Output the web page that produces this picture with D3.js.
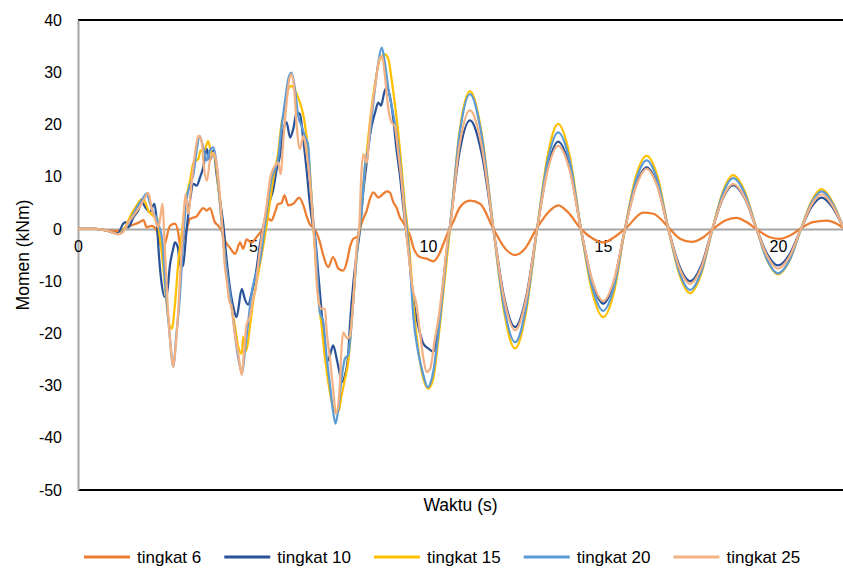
<!DOCTYPE html>
<html>
<head>
<meta charset="utf-8">
<script src="https://cdn.jsdelivr.net/npm/d3@7"></script>
<style>
  html, body { margin: 0; padding: 0; background: #fff; }
  svg { display: block; font-family: "Liberation Sans", Arial, sans-serif; }
</style>
</head>
<body>
<svg id="chart" width="843" height="568"></svg>
<script>
// Bending moment time histories per storey level: [time (s), moment (kNm)]
const tingkat6 = [[0,0],[0.5,0],[1.0,-0.4],[1.15,-0.4],[1.49,0.6],[1.77,1.3],[1.87,1.7],[1.96,0.3],[2.1,0.6],[2.25,-0.3],[2.34,-2.9],[2.44,-3.5],[2.63,0.6],[2.77,1.0],[2.87,-1.0],[2.91,-3.0],[3.06,-1.4],[3.2,1.9],[3.39,2.4],[3.58,4.0],[3.68,3.5],[3.77,4.0],[3.91,1.3],[4.01,0.6],[4.1,-0.3],[4.2,-2.2],[4.34,-3.6],[4.49,-4.8],[4.63,-2.6],[4.72,-3.8],[4.82,-2.0],[4.95,-2.6],[5.1,-1.6],[5.3,0.2],[5.44,1.9],[5.53,1.6],[5.63,3.2],[5.72,4.8],[5.81,4.9],[5.9,6.4],[6.01,4.5],[6.15,4.8],[6.32,6.0],[6.44,4.5],[6.53,2.5],[6.63,0.8],[6.72,0.3],[6.82,-0.8],[6.91,-2.5],[7.01,-5.1],[7.15,-7.3],[7.29,-5.4],[7.44,-7.6],[7.58,-8.0],[7.68,-6.4],[7.77,-3.5],[7.87,-1.9],[7.98,-1.5],[8.06,0.2],[8.15,1.9],[8.25,3.5],[8.34,5.7],[8.44,7.0],[8.58,6.0],[8.72,6.7],[8.82,7.2],[8.91,7.0],[9.01,5.1],[9.1,4.1],[9.2,2.2],[9.29,1.3],[9.39,0],[9.49,-1.3],[9.58,-3.5],[9.77,-5.4],[9.96,-5.7],[10.15,-6.2],[10.3,-5.1],[10.44,-2.9],[10.58,-0.6],[10.72,1.3],[10.91,4.1],[11.2,5.4],[11.49,4.8],[11.87,0],[12.25,-4.1],[12.49,-5.0],[12.77,-3.8],[13.1,0],[13.44,3.2],[13.72,4.5],[14.0,3.2],[14.37,0],[14.72,-1.9],[15.01,-2.6],[15.34,-1.5],[15.68,0.3],[16.15,3.1],[16.44,2.9],[16.87,0.3],[17.2,-1.9],[17.53,-2.5],[17.87,-1.6],[18.15,0],[18.53,1.7],[18.82,2.1],[19.1,1.3],[19.44,-0.3],[19.77,-1.6],[20.06,-1.9],[20.34,-1.3],[20.68,0.2],[21.0,1.3],[21.39,1.6],[21.68,1.0],[21.86,0.2]];

const tingkat10 = [[0,0],[0.5,0],[0.8,-0.3],[1.0,-0.7],[1.15,-0.8],[1.29,1.0],[1.36,1.3],[1.44,0.3],[1.58,2.2],[1.72,3.5],[1.82,5.2],[1.92,4.2],[2.06,3.2],[2.18,4.8],[2.25,1.6],[2.31,-4.8],[2.39,-10.5],[2.47,-13.0],[2.53,-12.8],[2.63,-6.8],[2.72,-3.8],[2.77,-2.6],[2.85,-3.5],[2.93,-7.3],[3.0,-7.0],[3.1,-0.4],[3.2,5.4],[3.3,8.6],[3.39,8.3],[3.49,9.9],[3.58,11.8],[3.68,15.3],[3.77,13.1],[3.87,15.0],[3.96,10.5],[4.06,5.4],[4.15,1.0],[4.25,-6.1],[4.34,-11.2],[4.44,-15.0],[4.53,-16.9],[4.68,-11.5],[4.77,-13.5],[4.86,-14.5],[4.96,-12.4],[5.08,-8.6],[5.2,-2.9],[5.3,0.6],[5.44,4.5],[5.58,7.6],[5.68,11.5],[5.77,14.0],[5.87,19.1],[5.96,20.4],[6.06,17.5],[6.15,19.1],[6.25,22.3],[6.34,22.0],[6.44,17.0],[6.53,11.5],[6.63,4.5],[6.72,0.3],[6.77,-1.3],[6.87,-8.9],[6.96,-15.9],[7.1,-25.5],[7.2,-24.2],[7.29,-22.3],[7.39,-24.8],[7.47,-27.4],[7.53,-29.3],[7.63,-28.0],[7.72,-24.2],[7.77,-18.5],[7.87,-10.2],[7.96,-5.1],[8.06,0],[8.15,7.0],[8.25,12.7],[8.34,17.8],[8.49,22.3],[8.58,24.2],[8.66,23.6],[8.75,26.1],[8.82,27.1],[8.91,25.5],[9.01,21.0],[9.1,15.3],[9.2,10.2],[9.29,4.5],[9.37,0],[9.44,-3.8],[9.58,-13.4],[9.72,-18.5],[9.87,-22.0],[10.01,-22.9],[10.15,-23.5],[10.3,-18.5],[10.44,-10.2],[10.53,-4.5],[10.62,0],[10.9,14.6],[11.2,20.8],[11.53,14.6],[11.87,0],[12.18,-13.2],[12.49,-18.8],[12.8,-13.2],[13.12,0],[13.42,11.7],[13.72,16.7],[14.05,11.7],[14.37,0],[14.69,-10],[15.01,-14.3],[15.32,-10],[15.63,0],[15.94,8.3],[16.25,11.8],[16.56,8.3],[16.87,0],[17.18,-7],[17.49,-10.0],[17.81,-7],[18.13,0],[18.43,5.9],[18.72,8.4],[19.05,5.9],[19.39,0],[19.7,-4.9],[20.0,-7.0],[20.33,-4.9],[20.66,0],[20.96,4.2],[21.25,6.0],[21.55,4.2],[21.86,0.3]];

const tingkat15 = [[0,0],[0.5,0],[0.8,-0.3],[1.0,-0.7],[1.15,-1.0],[1.34,0.3],[1.53,2.9],[1.68,4.5],[1.82,5.7],[1.9,5.4],[2.01,3.5],[2.15,2.5],[2.25,2.2],[2.34,-1.6],[2.44,-7.6],[2.53,-14.3],[2.63,-18.8],[2.68,-19.1],[2.77,-14.5],[2.87,-6.1],[2.96,-1.0],[3.06,4.8],[3.2,9.2],[3.3,12.7],[3.44,13.4],[3.5,15.0],[3.6,15.0],[3.72,16.8],[3.82,14.3],[3.9,14.0],[4.01,8.0],[4.1,1.6],[4.19,-4.8],[4.29,-10.5],[4.39,-15.0],[4.49,-18.8],[4.58,-22.6],[4.68,-23.9],[4.72,-20.7],[4.81,-23.3],[4.91,-18.8],[5.01,-13.7],[5.15,-8.6],[5.3,-3.0],[5.44,3.0],[5.58,9.6],[5.72,14.6],[5.82,20.4],[5.91,22.9],[6.01,26.8],[6.1,27.4],[6.23,26.1],[6.34,24.2],[6.44,21.7],[6.53,17.8],[6.63,10.8],[6.7,3.2],[6.77,-4.0],[6.87,-13.4],[6.96,-18.5],[7.06,-24.8],[7.15,-29.3],[7.25,-33.1],[7.34,-35.0],[7.44,-35.0],[7.53,-31.9],[7.63,-28.7],[7.72,-25.5],[7.82,-17.8],[7.92,-8.9],[8.01,-1.3],[8.06,0.6],[8.15,8.3],[8.25,14.6],[8.34,20.4],[8.49,28.0],[8.63,32.5],[8.77,33.4],[8.87,32.5],[8.96,28.7],[9.05,24.2],[9.15,18.5],[9.25,11.5],[9.34,4.5],[9.42,0],[9.5,-6.5],[9.58,-14.0],[9.72,-23.0],[9.87,-28.7],[10.01,-30.6],[10.15,-28.7],[10.3,-21.0],[10.44,-12.1],[10.58,-3.2],[10.63,0],[10.9,18.5],[11.2,26.4],[11.53,18.5],[11.87,0],[12.18,-16],[12.49,-22.9],[12.8,-16],[13.12,0],[13.42,14],[13.72,20.1],[14.05,14],[14.37,0],[14.69,-12],[15.01,-16.9],[15.32,-12],[15.63,0],[15.94,10],[16.25,14.0],[16.56,10],[16.87,0],[17.18,-8.6],[17.49,-12.3],[17.81,-8.6],[18.13,0],[18.43,7.2],[18.72,10.3],[19.05,7.2],[19.39,0],[19.7,-6.1],[20.0,-8.7],[20.33,-6.1],[20.66,0],[20.96,5.3],[21.25,7.6],[21.55,5.3],[21.86,0.3]];

const tingkat20 = [[0,0],[0.5,0],[0.8,-0.3],[1.0,-0.7],[1.15,-1.0],[1.34,0],[1.53,2.2],[1.72,4.5],[1.87,6.0],[1.96,6.8],[2.06,4.8],[2.15,3.2],[2.24,2.2],[2.32,0.5],[2.41,-2.3],[2.5,-11.2],[2.6,-18.8],[2.7,-25.8],[2.73,-26.4],[2.8,-21.0],[2.91,-13.0],[3.01,-1.5],[3.1,5.5],[3.2,8.3],[3.3,10.5],[3.39,15.0],[3.47,17.8],[3.58,15.6],[3.68,13.1],[3.77,15.0],[3.87,15.6],[3.96,12.4],[4.06,4.8],[4.15,-2.2],[4.25,-8.0],[4.34,-12.4],[4.44,-17.5],[4.53,-22.6],[4.63,-26.4],[4.69,-27.7],[4.77,-23.3],[4.87,-17.5],[4.96,-12.4],[5.06,-9.2],[5.2,-6.1],[5.34,0.6],[5.44,5.7],[5.53,9.6],[5.63,11.5],[5.72,13.4],[5.82,19.7],[5.91,24.2],[6.01,28.7],[6.1,29.9],[6.2,26.8],[6.29,21.7],[6.39,19.7],[6.48,17.8],[6.58,15.9],[6.63,10.2],[6.72,1.9],[6.8,-4.0],[6.91,-15.9],[7.01,-17.8],[7.1,-24.2],[7.2,-29.9],[7.29,-35.0],[7.36,-37.3],[7.44,-34.4],[7.53,-28.7],[7.63,-24.8],[7.72,-24.2],[7.82,-17.8],[7.92,-8.9],[8.01,-1.3],[8.1,3.2],[8.2,12.1],[8.29,15.3],[8.44,24.2],[8.58,31.8],[8.68,34.7],[8.77,31.8],[8.87,26.8],[8.96,23.6],[9.05,20.4],[9.15,15.9],[9.25,9.6],[9.34,3.2],[9.42,-1.5],[9.5,-8.3],[9.58,-16.6],[9.72,-23.6],[9.87,-28.0],[9.99,-30.3],[10.15,-27.4],[10.3,-19.8],[10.44,-10.8],[10.58,-1.9],[10.62,0],[10.9,18],[11.2,25.8],[11.53,18],[11.87,0],[12.18,-15.2],[12.49,-21.7],[12.8,-15.2],[13.12,0],[13.42,13],[13.72,18.5],[14.05,13],[14.37,0],[14.69,-11],[15.01,-15.7],[15.32,-11],[15.63,0],[15.94,9.2],[16.25,13.1],[16.56,9.2],[16.87,0],[17.18,-8.2],[17.49,-11.7],[17.81,-8.2],[18.13,0],[18.43,6.8],[18.72,9.7],[19.05,6.8],[19.39,0],[19.7,-6],[20.0,-8.5],[20.33,-6],[20.66,0],[20.96,5],[21.25,7.2],[21.55,5],[21.86,0.4]];

const tingkat25 = [[0,0],[0.5,0],[0.8,-0.3],[1.0,-0.7],[1.15,-1.0],[1.29,-0.6],[1.44,1.3],[1.58,2.5],[1.72,3.8],[1.87,5.4],[2.01,6.9],[2.1,4.1],[2.2,1.9],[2.29,0.3],[2.36,2.5],[2.41,4.8],[2.48,-3.5],[2.56,-14.3],[2.66,-23.3],[2.72,-26.4],[2.79,-22.6],[2.87,-15.0],[2.94,-6.1],[3.01,1.6],[3.07,6.6],[3.15,2.9],[3.25,9.2],[3.34,14.3],[3.44,17.8],[3.53,16.9],[3.6,11.8],[3.68,9.2],[3.77,13.1],[3.87,14.6],[3.96,12.4],[4.06,6.0],[4.13,-0.3],[4.19,-6.7],[4.25,-9.9],[4.32,-13.7],[4.39,-15.0],[4.48,-20.1],[4.58,-23.9],[4.68,-28.0],[4.74,-23.9],[4.82,-18.2],[4.91,-16.9],[5.01,-13.1],[5.08,-11.5],[5.15,-6.7],[5.25,-1.6],[5.39,4.5],[5.49,9.6],[5.63,12.1],[5.72,12.7],[5.79,10.5],[5.87,17.2],[5.96,24.2],[6.04,28.7],[6.1,29.6],[6.17,27.4],[6.25,19.7],[6.34,15.3],[6.44,17.8],[6.53,14.6],[6.63,8.9],[6.72,1.0],[6.77,-4.0],[6.84,-12.0],[6.96,-15.3],[7.06,-15.3],[7.1,-19.1],[7.2,-24.8],[7.29,-30.6],[7.37,-35.4],[7.47,-31.2],[7.53,-22.9],[7.58,-19.8],[7.69,-21.0],[7.77,-20.4],[7.87,-13.4],[7.96,-3.8],[8.04,0.6],[8.09,9.6],[8.15,14.3],[8.25,12.7],[8.34,19.7],[8.49,27.4],[8.63,32.8],[8.69,33.1],[8.77,29.3],[8.87,22.9],[8.96,20.4],[9.05,19.7],[9.15,14.6],[9.25,8.9],[9.34,1.9],[9.44,-4.5],[9.58,-12.1],[9.67,-14.3],[9.77,-19.8],[9.87,-24.8],[9.96,-27.4],[10.06,-26.8],[10.2,-21.0],[10.3,-17.2],[10.44,-9.6],[10.58,-1.3],[10.62,0],[10.9,16],[11.2,22.7],[11.53,16],[11.87,0],[12.18,-13.6],[12.49,-19.4],[12.8,-13.6],[13.12,0],[13.42,11.2],[13.72,15.9],[14.05,11.2],[14.37,0],[14.69,-9.7],[15.01,-13.8],[15.32,-9.7],[15.63,0],[15.94,8],[16.25,11.5],[16.56,8],[16.87,0],[17.18,-7.4],[17.49,-10.5],[17.81,-7.4],[18.13,0],[18.43,6],[18.72,8.6],[19.05,6],[19.39,0],[19.7,-5.3],[20.0,-7.6],[20.33,-5.3],[20.66,0],[20.96,4.6],[21.25,6.6],[21.55,4.6],[21.86,0.3]];

const seriesNames = ["tingkat 6", "tingkat 10", "tingkat 15", "tingkat 20", "tingkat 25"];
const seriesData = [tingkat6, tingkat10, tingkat15, tingkat20, tingkat25];
const seriesColors = ["#ED7D31", "#2A5298", "#FFC000", "#5B9BD5", "#F4B183"];

const xTicks = [0, 5, 10, 15, 20];
const yTicks = [40, 30, 20, 10, 0, -10, -20, -30, -40, -50];
const xDomain = [0, 21.86];
const yDomain = [-50, 40];

const svg = d3.select("#chart");
const plot = { left: 78, right: 843, top: 20, bottom: 490 };

const x = d3.scaleLinear().domain(xDomain).range([plot.left, plot.right]);
const y = d3.scaleLinear().domain(yDomain).range([plot.bottom, plot.top]);

// plain hyphen-minus for negative tick labels
const plainNumber = d => String(d);

// top and bottom frame lines
svg.append("line")
  .attr("x1", plot.left).attr("x2", plot.right)
  .attr("y1", plot.top).attr("y2", plot.top)
  .attr("stroke", "#000").attr("stroke-width", 2);
svg.append("line")
  .attr("x1", plot.left).attr("x2", plot.right)
  .attr("y1", plot.bottom).attr("y2", plot.bottom)
  .attr("stroke", "#000").attr("stroke-width", 2);

// value axis on the left
const yAxis = svg.append("g")
  .attr("transform", `translate(${plot.left},0)`)
  .call(d3.axisLeft(y).tickValues(yTicks).tickSize(0).tickPadding(16).tickFormat(plainNumber));
yAxis.select(".domain").attr("stroke", "#A6A6A6").attr("stroke-width", 2);
yAxis.selectAll("text")
  .attr("font-size", 16).attr("fill", "#000")
  .style("font-family", "'Liberation Sans', Arial, sans-serif");

// time axis crossing at zero moment
const xAxis = svg.append("g")
  .attr("transform", `translate(0,${y(0)})`)
  .call(d3.axisBottom(x).tickValues(xTicks).tickSize(0).tickPadding(12).tickFormat(plainNumber));
xAxis.select(".domain").attr("stroke", "#A6A6A6").attr("stroke-width", 2);
xAxis.selectAll("text")
  .attr("font-size", 16).attr("fill", "#000")
  .style("font-family", "'Liberation Sans', Arial, sans-serif");

// series lines
const line = d3.line()
  .x(d => x(d[0]))
  .y(d => y(d[1]))
  .curve(d3.curveMonotoneX);

svg.append("g").selectAll("path")
  .data(seriesData)
  .join("path")
  .attr("d", line)
  .attr("fill", "none")
  .attr("stroke", (d, i) => seriesColors[i])
  .attr("stroke-width", 2.25)
  .attr("stroke-linejoin", "round");

// axis titles
svg.append("text")
  .attr("x", (plot.left + plot.right) / 2).attr("y", 511)
  .attr("text-anchor", "middle").attr("font-size", 17.5)
  .text("Waktu (s)");
svg.append("text")
  .attr("transform", `translate(29,${(plot.top + plot.bottom) / 2}) rotate(-90)`)
  .attr("text-anchor", "middle").attr("font-size", 17.5)
  .text("Momen (kNm)");

// legend
const legend = svg.append("g").attr("transform", "translate(84,557)");
let cursor = 0;
seriesNames.forEach((name, i) => {
  const item = legend.append("g").attr("transform", `translate(${cursor},0)`);
  item.append("line")
    .attr("x1", 0).attr("x2", 46).attr("y1", 0).attr("y2", 0)
    .attr("stroke", seriesColors[i]).attr("stroke-width", 3);
  const t = item.append("text")
    .attr("x", 53).attr("y", 0).attr("dy", "0.35em")
    .attr("font-size", 17).text(name);
  cursor += 53 + t.node().getComputedTextLength() + 23;
});
</script>
</body>
</html>
